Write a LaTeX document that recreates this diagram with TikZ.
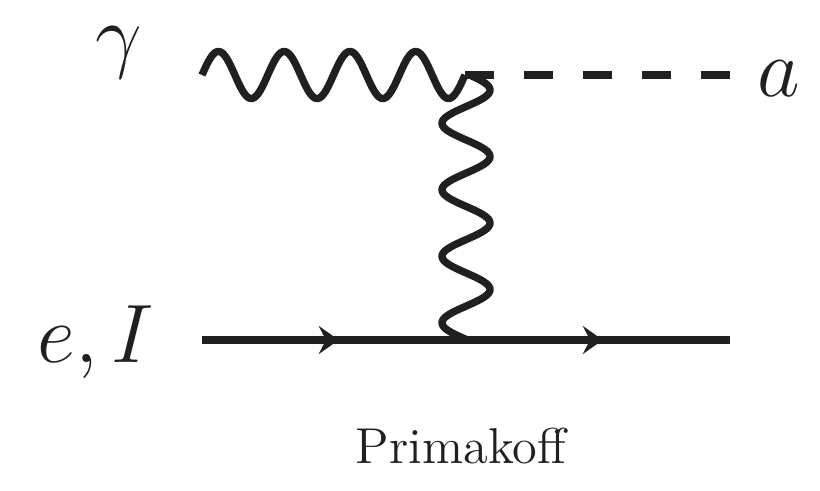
\documentclass[tikz,border=0pt]{standalone}
\usepackage{fontspec}
\usetikzlibrary{decorations.markings,arrows.meta}
\definecolor{ink}{RGB}{32,32,32}
\begin{document}
\begin{tikzpicture}[x=0.25pt,y=-0.25pt,
  line width=1.85pt, line join=round, draw=ink, text=ink,
  scalar/.style={dash pattern=on 7.25pt off 7.5pt},
  fermion/.style={postaction={decorate},decoration={markings,
      mark=at position 0.52 with {\arrow[ink]{Stealth[length=5pt,width=7pt,inset=1.8pt]}}}},
  lbl/.style={anchor=base,inner sep=0pt,font=\fontsize{20}{24}\selectfont},
  captext/.style={anchor=base,inner sep=0pt,font=\fontsize{12.6}{15}\selectfont}]
\useasboundingbox (0,0) rectangle (820,490);
\coordinate (gin) at (202,75);
\coordinate (v1) at (465,75);
\coordinate (aout) at (730,75);
\coordinate (ein) at (202,340);
\coordinate (v2) at (465,340);
\coordinate (eout) at (730,340);
% incoming photon (gin) -> (v1)
\draw[shift={(gin)}] plot[domain=0:263,samples=301,smooth] (\x,{-23.5*sin(\x*5.47529)});
% axion line
\draw[scalar] (v1) -- (aout);
% exchanged photon (v1) -> (v2)
\draw[shift={(v1)}] plot[domain=0:265,samples=301,smooth] ({1+24*sin((\x+1.6)*5.41353)},\x);
% electron / ion line
\draw[fermion] (ein) -- (v2);
\draw[fermion] (v2) -- (eout);
\node[lbl] (lg) at (119,63) {$\gamma$};
\node[lbl] (la) at (779,97) {$a$};
\node[lbl] (le) at (96,362) {$e, I$};
\node[captext] (lp) at (461,463) {Primakoff};
\end{tikzpicture}
\end{document}
